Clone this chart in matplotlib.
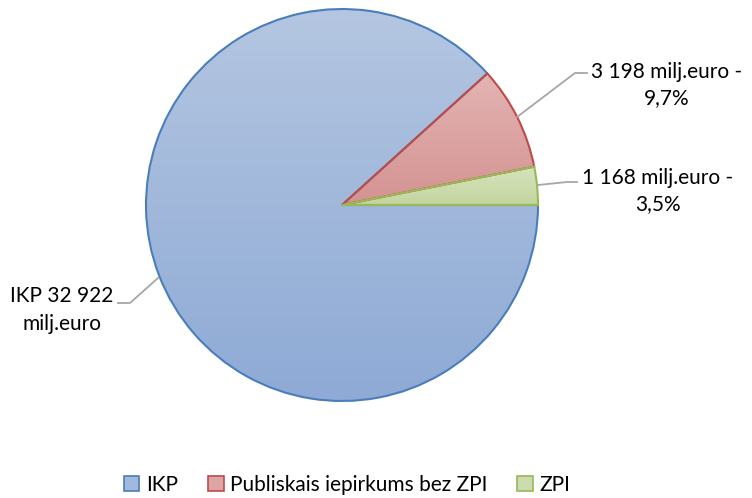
import numpy as np
import matplotlib
matplotlib.use("Agg")
import matplotlib.pyplot as plt
from matplotlib.patches import Patch
from matplotlib.colors import LinearSegmentedColormap

categories = ["IKP", "Publiskais iepirkums bez ZPI", "ZPI"]
values = [32922, 3198, 1168]
label_texts = ["IKP 32 922\nmilj.euro", "3 198 milj.euro -\n9,7%", "1 168 milj.euro -\n3,5%"]

grad_top = ["#b4c6e1", "#e3b4b3", "#d6e3bd"]
grad_bot = ["#8eaad5", "#d39391", "#c3d59f"]
edge_cols = ["#4a7ebb", "#be4b48", "#98b954"]
mid_cols = ["#a2b8dc", "#dca5a4", "#cddcb0"]

plt.rcParams['font.family'] = ['Lato', 'DejaVu Sans']

W, H = 752, 498
fig = plt.figure(figsize=(W / 100, H / 100), dpi=100)
ax = fig.add_axes([0, 0, 1, 1])

cx, cy, r = 342, H - 205, 196
wedges, _ = ax.pie(values, startangle=0, counterclock=False, radius=r, center=(cx, cy),
                   colors=mid_cols,
                   wedgeprops=dict(edgecolor="none", linewidth=0))

for w, top, bot, ec in zip(wedges, grad_top, grad_bot, edge_cols):
    cmap = LinearSegmentedColormap.from_list("g", [bot, top])
    bb = w.get_path().get_extents(w.get_patch_transform())
    grad = np.linspace(0, 1, 256).reshape(-1, 1)
    im = ax.imshow(grad, cmap=cmap, origin="lower", aspect="auto",
                   extent=[bb.x0, bb.x1, bb.y0, bb.y1], zorder=1)
    im.set_clip_path(w)
    w.set_facecolor("none")
    w.set_edgecolor(ec)
    w.set_linewidth(1.5)
    w.set_zorder(2)

def P(x, y):
    return (x, H - y)

lc = "#a6a6a6"
fs = 15
# IKP
ax.plot(*zip(P(158, 278), P(130, 303), P(118, 303)), color=lc, lw=1.3, zorder=3)
ax.text(*P(62, 310), label_texts[0], ha="center", va="center", fontsize=fs,
        linespacing=1.5, color="#000000")
# red
ax.plot(*zip(P(517, 117), P(575, 73), P(587, 73)), color=lc, lw=1.3, zorder=3)
ax.text(*P(667, 85), label_texts[1], ha="center", va="center", fontsize=fs,
        linespacing=1.35, color="#000000")
# green
ax.plot(*zip(P(538, 185), P(567, 182), P(577, 182)), color=lc, lw=1.3, zorder=3)
ax.text(*P(658, 191), label_texts[2], ha="center", va="center", fontsize=fs,
        linespacing=1.35, color="#000000")

handles = [Patch(facecolor=m, edgecolor=e, linewidth=1.2) for m, e in zip(mid_cols, edge_cols)]
ax.legend(handles, categories, loc="center", bbox_to_anchor=(347 / W, 1 - 485 / H),
          ncol=3, frameon=False, fontsize=15, handlelength=0.75, handleheight=0.75,
          handletextpad=0.3, columnspacing=1.45, borderpad=0)

ax.set_xlim(0, W)
ax.set_ylim(0, H)
ax.set_aspect("equal")
ax.axis("off")
fig.savefig("out.png", dpi=100)
